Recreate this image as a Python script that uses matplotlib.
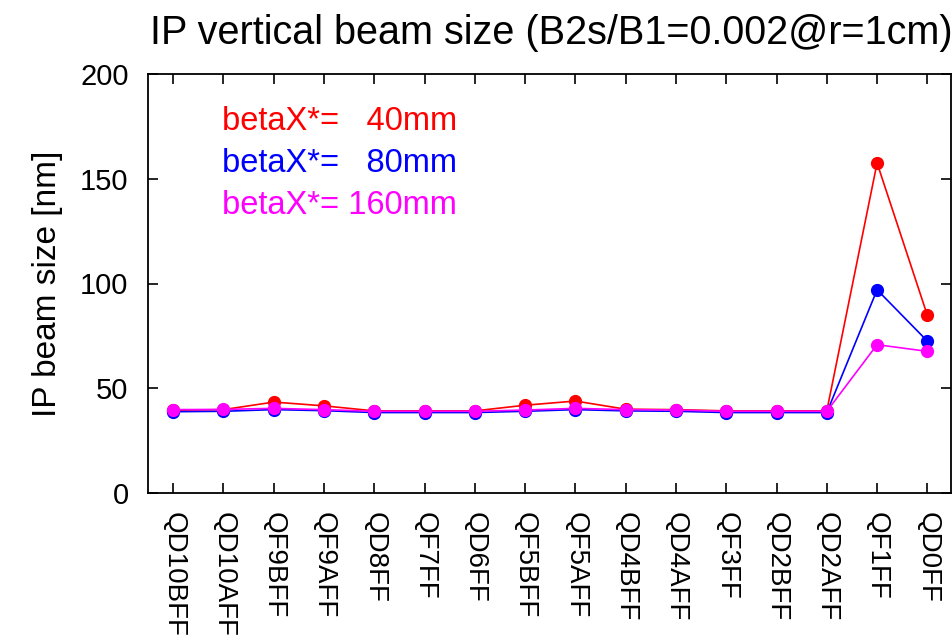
import matplotlib
matplotlib.use("Agg")
import matplotlib.pyplot as plt

plt.rcParams['font.family'] = ['Liberation Sans', 'DejaVu Sans']

magnets = ['QD10BFF', 'QD10AFF', 'QF9BFF', 'QF9AFF', 'QD8FF', 'QF7FF', 'QD6FF',
           'QF5BFF', 'QF5AFF', 'QD4BFF', 'QD4AFF', 'QF3FF', 'QD2BFF', 'QD2AFF',
           'QF1FF', 'QD0FF']

size_40mm = [39.5, 39.8, 43.4, 41.6, 39.2, 39.2, 39.2, 41.9, 43.9, 40.0, 39.8,
             39.2, 39.2, 39.2, 157.5, 84.8]
size_80mm = [38.8, 39.0, 39.8, 39.3, 38.4, 38.4, 38.4, 39.0, 39.8, 39.2, 39.0,
             38.4, 38.4, 38.4, 97.0, 72.5]
size_160mm = [39.8, 39.9, 40.4, 39.8, 39.0, 39.0, 39.0, 39.6, 40.4, 39.8, 39.6,
              39.0, 39.0, 39.0, 70.8, 67.6]

labels = ['betaX*=   40mm', 'betaX*=   80mm', 'betaX*= 160mm']
colors = ['red', 'blue', 'magenta']

fig = plt.figure(figsize=(9.53, 6.43), dpi=100)
ax = fig.add_axes([148 / 953, 1 - 493 / 643, (951 - 148) / 953, (493 - 74) / 643])

x = range(len(magnets))
for series, c in zip([size_40mm, size_80mm, size_160mm], colors):
    ax.plot(x, series, color=c, lw=1.2, marker='o', ms=8.5)

for i, (lab, c) in enumerate(zip(labels, colors)):
    ax.text(0.092, 0.887 - i * 0.101, lab, color=c, fontsize=23.5,
            transform=ax.transAxes, va='center', ha='left')

ax.set_xlim(-0.5, 15.47)
ax.set_ylim(0, 200)
ax.set_yticks([0, 50, 100, 150, 200])
ax.set_xticks(list(x))
ax.set_xticklabels(magnets, rotation=-90, fontsize=20)
ax.tick_params(axis='y', labelsize=21, pad=14)
ax.tick_params(axis='x', pad=14)
ax.tick_params(direction='in', length=7, width=1.2, top=True, right=True)
for s in ax.spines.values():
    s.set_linewidth(1.3)

ax.set_ylabel('IP beam size [nm]', fontsize=24, labelpad=12)
fig.text(150 / 953, 1 - 44 / 643, 'IP vertical beam size (B2s/B1=0.002@r=1cm)',
         fontsize=28.5, ha='left', va='baseline')

fig.savefig('out.png', dpi=100)
